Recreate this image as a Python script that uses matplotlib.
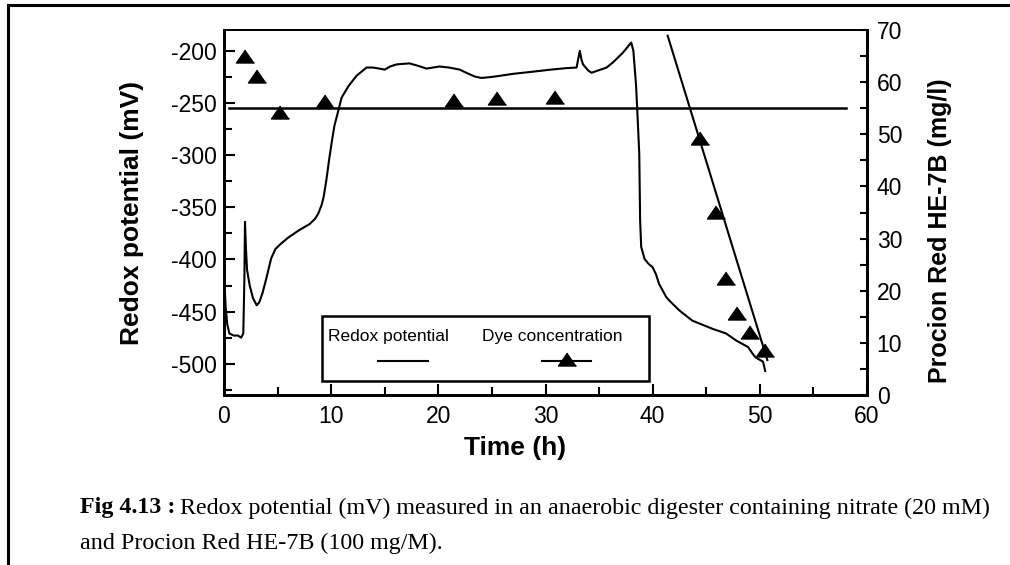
import matplotlib
matplotlib.use("Agg")
import matplotlib.pyplot as plt
from matplotlib import font_manager
from matplotlib.lines import Line2D
from matplotlib.patches import Rectangle
from matplotlib.ticker import MultipleLocator

# redox potential trace (h, mV)
redox_t = [0.05, 0.15, 0.3, 0.5, 0.9, 1.3, 1.6, 1.8, 1.9, 1.96, 2.05, 2.15, 2.4, 2.7,
           3.05, 3.3, 3.6, 3.98, 4.4, 4.8, 5.3, 6.0, 7.0, 8.0, 8.5, 8.8, 9.1, 9.3,
           9.55, 9.8, 10.03, 10.3, 10.5, 10.97, 11.6, 12.36, 13.3, 13.9, 14.5, 15.0,
           15.5, 16.1, 17.3, 18.0, 18.9, 19.5, 20.1, 21.0, 22.0, 22.6, 23.4, 24.0,
           25.0, 25.7, 27.0, 28.8, 30.5, 31.9, 32.9, 33.05, 33.2, 33.35, 33.5, 34.0,
           34.3, 35.0, 35.7, 36.3, 36.8, 37.2, 37.6, 38.0, 38.2, 38.45, 38.6, 38.75,
           38.83, 38.93, 39.24, 39.6, 40.0, 40.3, 40.6, 41.26, 41.56, 42.5, 43.7,
           45.6, 46.85, 47.8, 48.9, 49.3, 49.6, 50.3, 50.5]
redox_mv = [-423, -445, -462, -471, -473, -473, -475, -471, -420, -364, -390, -410, -425, -437,
            -444, -441, -432, -417, -399, -390, -385, -379, -372, -366, -361, -356, -348, -340,
            -324, -305, -289, -272, -264, -245, -234, -224, -216, -216, -217, -218,
            -215, -213, -212, -214, -217, -216, -215, -216, -218, -221, -224.6, -226,
            -225, -224, -222, -220, -218, -216.6, -216, -208, -200, -208, -213, -219,
            -221, -218.5, -216, -211, -206, -202, -197, -192, -200, -233, -265, -299,
            -363, -388, -399.5, -404, -407.6, -414, -423.5, -436, -439.5, -449, -458.7,
            -466.6, -471, -477.8, -484, -490, -494, -498, -507]

# dye concentration (h, mg/l)
dye_t = [1.96, 3.05, 5.2, 9.4, 21.5, 25.5, 30.9, 44.4, 45.9, 46.8, 47.9, 49.1, 50.5]
dye_c = [65.1, 61.2, 54.2, 56.3, 56.5, 56.9, 57.2, 49.3, 35.1, 22.5, 15.8, 12.0, 8.6]

# horizontal reference line and decolourisation trend line
ref_t = [0.5, 58.0]
ref_c = [55.0, 55.0]
fit_t = [41.4, 50.7]
fit_c = [68.9, 6.7]

names = {f.name for f in font_manager.fontManager.ttflist}
legend_font = "Liberation Sans Narrow" if "Liberation Sans Narrow" in names else "Liberation Sans"
legend_size = 15 if legend_font == "Liberation Sans Narrow" else 12.5

plt.rcParams["font.family"] = ["Liberation Sans", "DejaVu Sans"]
plt.rcParams["axes.unicode_minus"] = False

fig = plt.figure(figsize=(10.1, 5.65), dpi=100)
ax = fig.add_axes([224/1010, 1-395/565, 643/1010, 365/565])
ax2 = ax.twinx()

tri = [(0, 0.72), (-1, -0.72), (1, -0.72)]

ax.plot(redox_t, redox_mv, color="black", lw=1.5)
ax2.plot(ref_t, ref_c, color="black", lw=1.8)
ax2.plot(fit_t, fit_c, color="black", lw=1.5)
ax2.plot(dye_t, dye_c, ls="none", marker=tri, ms=13, color="black", zorder=5)

ax.set_xlim(0, 60)
ax.set_ylim(-530, -180)
ax2.set_ylim(0, 70)

ax.xaxis.set_major_locator(MultipleLocator(10))
ax.xaxis.set_minor_locator(MultipleLocator(5))
ax.yaxis.set_major_locator(MultipleLocator(50))
ax.yaxis.set_minor_locator(MultipleLocator(25))
ax2.yaxis.set_major_locator(MultipleLocator(10))
ax2.yaxis.set_minor_locator(MultipleLocator(5))

ax.tick_params(axis="both", which="both", direction="in", width=1.5, labelsize=16.5)
ax.tick_params(axis="both", which="major", length=8)
ax.tick_params(axis="both", which="minor", length=6)
ax.tick_params(axis="x", pad=7)
ax.tick_params(axis="y", pad=5, right=False)
ax.tick_params(axis="x", top=False, which="both")
ax2.tick_params(axis="y", which="both", direction="in", width=1.5, labelsize=16.5, pad=7)
ax2.tick_params(axis="y", which="major", length=5)
ax2.tick_params(axis="y", which="minor", length=5)

for a in (ax, ax2):
    for side in ("left", "right", "bottom"):
        a.spines[side].set_linewidth(2.0)
    a.spines["top"].set_linewidth(1.3)

ax.set_xlabel("Time (h)", fontsize=19, fontweight="bold")
ax.xaxis.set_label_coords(0.4526, -0.112)
ax.set_ylabel("Redox potential (mV)", fontsize=19, fontweight="bold")
ax.yaxis.set_label_coords(-0.125, 0.5)
ax2.set_ylabel("Procion Red HE-7B (mg/l)", fontsize=18, fontweight="bold")
ax2.yaxis.set_label_coords(1.095, 0.45)

# legend box drawn like the original: text above each sample
ax2.add_patch(Rectangle((0.152, 0.038), 0.509, 0.178, transform=ax2.transAxes,
                        facecolor="white", edgecolor="black", lw=1.8, zorder=6))
ax2.text(0.161, 0.16, "Redox potential", transform=ax2.transAxes, family=legend_font,
         fontsize=legend_size, va="center", ha="left", zorder=7)
ax2.text(0.402, 0.16, "Dye concentration", transform=ax2.transAxes, family=legend_font,
         fontsize=legend_size, va="center", ha="left", zorder=7)
ax2.add_line(Line2D([0.240, 0.317], [0.094, 0.094], transform=ax2.transAxes,
                    color="black", lw=1.5, zorder=7))
ax2.add_line(Line2D([0.494, 0.570], [0.094, 0.094], transform=ax2.transAxes,
                    color="black", lw=1.5, zorder=7))
ax2.add_line(Line2D([0.533], [0.10], transform=ax2.transAxes, ls="none",
                    marker=tri, ms=13, color="black", zorder=8))

# page frame
fig.add_artist(Line2D([8/1010, 8/1010], [0, 1-5/565], transform=fig.transFigure,
                      color="black", lw=2.2))
fig.add_artist(Line2D([8/1010, 1], [1-5/565, 1-5/565], transform=fig.transFigure,
                      color="black", lw=2.2))

# caption
cap_x = 80/1010
cap_size = 17.3
t1 = fig.text(cap_x, 1-508/565, "Fig 4.13 :", family="Liberation Serif", fontsize=cap_size,
              fontweight="bold", va="center", ha="left")
fig.canvas.draw()
bb = t1.get_window_extent()
fig.text(bb.x1/1010 + 5/1010, 1-508/565,
         "Redox potential (mV) measured in an anaerobic digester containing nitrate (20 mM)",
         family="Liberation Serif", fontsize=cap_size, va="center", ha="left")
fig.text(cap_x, 1-543/565, "and Procion Red HE-7B (100 mg/M).",
         family="Liberation Serif", fontsize=cap_size, va="center", ha="left")

fig.savefig("out.png", dpi=100)
